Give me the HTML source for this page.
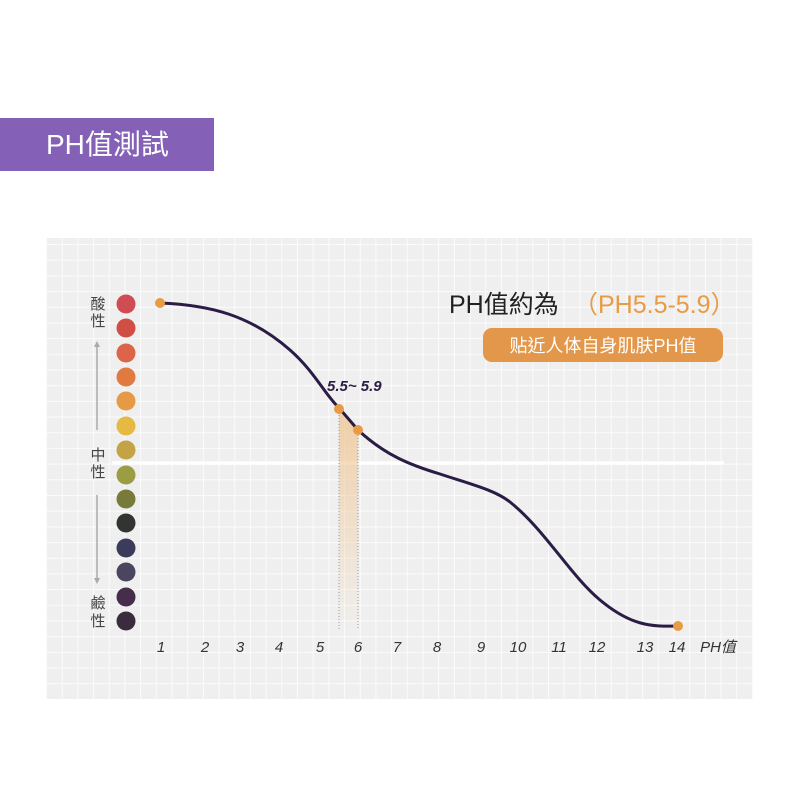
<!DOCTYPE html>
<html><head><meta charset="utf-8"><style>
body{margin:0;width:800px;height:800px;background:#fff;overflow:hidden;position:relative;font-family:"Liberation Sans","Noto Sans CJK TC",sans-serif}
.tag{position:absolute;left:0;top:118px;width:214px;height:53px;background:#8461b7;color:#fff;font-size:28px;line-height:53px;text-indent:46px}
.panel{position:absolute;left:46px;top:238px;width:707px;height:461px;background-color:#efefef;
background-image:linear-gradient(90deg,rgba(255,255,255,.75) 1px,transparent 1px),linear-gradient(rgba(255,255,255,.75) 1px,transparent 1px);
background-size:15.7px 15.7px;background-position:0px 6px}
</style></head><body>
<div class="tag">PH值測試</div>
<div class="panel"></div>
<svg width="800" height="800" style="position:absolute;left:0;top:0" font-family="Liberation Sans,Noto Sans CJK TC,sans-serif">
<defs><linearGradient id="g" x1="0" y1="0" x2="0" y2="1"><stop offset="0" stop-color="#efc898" stop-opacity=".85"/><stop offset="1" stop-color="#efc898" stop-opacity="0"/></linearGradient></defs>
<line x1="112" y1="463" x2="724" y2="463" stroke="#fff" stroke-width="3.5"/>
<polygon points="339,409 358,430 358,630 339,630" fill="url(#g)"/>
<line x1="339" y1="412" x2="339" y2="630" stroke="#999" stroke-dasharray="1,2" stroke-width="1"/>
<line x1="358" y1="432" x2="358" y2="630" stroke="#999" stroke-dasharray="1,2" stroke-width="1"/>
<g fill="#444" font-size="15" text-anchor="middle"><text x="98" y="309">酸</text><text x="98" y="326">性</text><text x="98" y="460">中</text><text x="98" y="477">性</text><text x="98" y="608">鹼</text><text x="98" y="626">性</text></g>
<g stroke="#aaa" stroke-width="1.5" fill="none"><line x1="97" y1="345" x2="97" y2="430"/><line x1="97" y1="495" x2="97" y2="580"/></g>
<polygon points="94,347 100,347 97,341" fill="#aaa"/><polygon points="94,578 100,578 97,584" fill="#aaa"/>
<g>
<circle cx="126" cy="304" r="9.5" fill="#d04b52"/><circle cx="126" cy="328" r="9.5" fill="#d04f45"/><circle cx="126" cy="353" r="9.5" fill="#dc6448"/><circle cx="126" cy="377" r="9.5" fill="#e07a40"/><circle cx="126" cy="401" r="9.5" fill="#e79a45"/><circle cx="126" cy="426" r="9.5" fill="#e6b942"/><circle cx="126" cy="450" r="9.5" fill="#c3a345"/><circle cx="126" cy="475" r="9.5" fill="#9b9c44"/><circle cx="126" cy="499" r="9.5" fill="#787a3a"/><circle cx="126" cy="523" r="9.5" fill="#313431"/><circle cx="126" cy="548" r="9.5" fill="#3b3c5c"/><circle cx="126" cy="572" r="9.5" fill="#4c4560"/><circle cx="126" cy="597" r="9.5" fill="#472d4c"/><circle cx="126" cy="621" r="9.5" fill="#3a2b3d"/>
</g>
<path d="M160,303 C210,305 250,315 290,350 C315,372 325,395 340,409 L358,430 C385,455 410,465 440,474 C470,484 495,490 510,502 C545,530 570,575 600,600 C630,625 650,627 678,626" fill="none" stroke="#2a1c45" stroke-width="3"/>
<g fill="#e89b45"><circle cx="160" cy="303" r="5"/><circle cx="339" cy="409" r="5"/><circle cx="358" cy="430" r="5"/><circle cx="678" cy="626" r="5"/></g>
<text x="327" y="391" font-size="15" font-style="italic" font-weight="bold" fill="#2a1c45">5.5~ 5.9</text>
<g font-size="15" font-style="italic" fill="#333" text-anchor="middle">
<text x="161" y="652">1</text><text x="205" y="652">2</text><text x="240" y="652">3</text><text x="279" y="652">4</text><text x="320" y="652">5</text><text x="358" y="652">6</text><text x="397" y="652">7</text><text x="437" y="652">8</text><text x="481" y="652">9</text><text x="518" y="652">10</text><text x="559" y="652">11</text><text x="597" y="652">12</text><text x="645" y="652">13</text><text x="677" y="652">14</text><text x="718" y="652">PH值</text>
</g>
<text x="449" y="313" font-size="25" fill="#222">PH值約為</text>
<text x="573" y="313" font-size="25" fill="#e89b45">（PH5.5-5.9）</text>
<rect x="483" y="328" width="240" height="34" rx="9" fill="#e3974a"/>
<text x="603" y="352" font-size="18" fill="#fff" text-anchor="middle">贴近人体自身肌肤PH值</text>
</svg>
</body></html>
